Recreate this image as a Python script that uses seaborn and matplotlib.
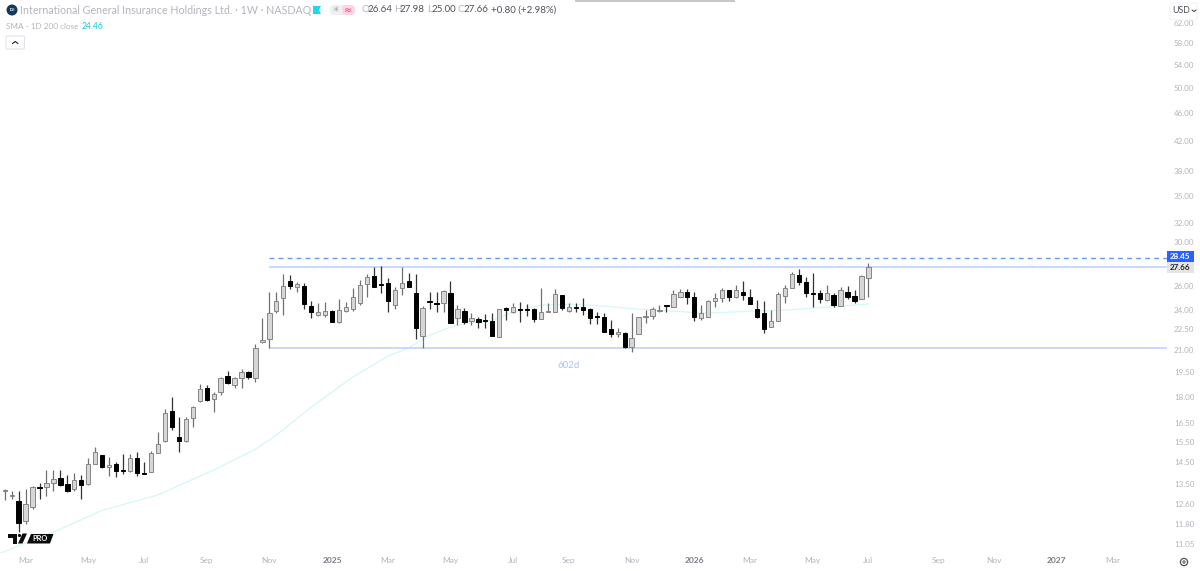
import numpy as np
import pandas as pd
import seaborn as sns
import matplotlib
matplotlib.use("Agg")
import matplotlib.pyplot as plt
from matplotlib.patches import Polygon, Rectangle, FancyBboxPatch, Circle
from matplotlib.ticker import FixedLocator, FixedFormatter, NullLocator

opens = [13.18,12.96,12.75,11.92,12.50,13.35,13.35,13.53,13.75,13.48,13.26,13.66,13.48,14.41,14.84,14.26,14.41,14.12,14.08,14.69,13.98,14.03,14.94,15.54,17.16,
         15.75,15.54,16.77,17.74,18.52,17.86,18.28,19.27,18.71,19.15,19.52,19.15,21.57,21.78,23.89,24.93,26.37,25.86,25.94,24.29,23.58,23.58,23.89,23.04,23.89,
         24.05,24.53,26.11,26.81,26.11,26.20,24.37,25.77,26.37,25.35,22.00,24.69,24.53,24.53,25.35,23.34,23.89,23.11,23.27,23.19,23.11,21.92,24.13,23.81,24.05,
         24.05,24.05,23.27,23.81,23.81,25.18,23.89,24.21,24.21,24.05,23.50,23.42,22.51,22.14,22.22,21.22,22.14,23.42,23.50,23.89,24.37,24.21,25.02,25.43,25.02,
         23.34,23.42,24.69,24.93,25.60,25.02,25.43,25.02,24.05,23.73,22.66,23.11,25.10,25.77,26.90,26.29,25.35,25.35,24.77,25.18,24.29,25.43,25.10,24.85,26.64]
highs = [13.26,13.18,13.18,13.26,13.40,13.53,14.12,14.12,14.12,13.89,13.98,13.89,14.69,15.24,14.86,14.74,14.50,14.89,14.89,14.99,14.50,15.04,16.01,17.27,17.98,
         16.82,16.82,17.45,18.77,18.71,18.28,19.21,19.59,19.21,19.72,19.59,21.43,23.34,25.43,25.43,26.99,26.90,26.29,26.20,24.69,24.53,24.61,23.97,24.85,24.61,
         25.77,26.46,26.99,27.62,27.71,26.64,25.86,27.62,27.08,26.99,24.29,25.43,25.43,25.60,26.37,24.37,24.13,23.73,23.42,23.65,23.73,24.07,24.21,24.53,24.61,
         24.45,24.13,25.77,24.53,25.69,25.20,24.53,24.53,24.93,24.13,23.81,23.73,23.19,22.59,22.29,23.73,23.42,23.97,24.21,24.37,24.39,25.60,25.69,25.69,25.43,
         24.37,24.77,25.35,25.77,25.62,26.03,26.37,25.69,24.77,24.69,23.97,25.43,26.03,27.17,27.44,26.72,27.08,25.60,26.03,25.35,25.86,25.94,25.60,26.90,27.98]
lows = [12.79,12.83,11.49,11.80,12.42,12.83,12.96,13.18,13.40,13.13,13.18,12.83,13.46,14.39,14.22,13.85,13.80,13.94,14.03,13.85,13.92,14.01,14.92,15.49,16.12,
        14.99,15.49,16.28,17.68,17.74,17.10,18.10,18.77,18.52,18.52,19.08,18.89,21.50,21.15,23.73,23.58,25.69,25.43,24.05,23.34,23.50,23.42,23.02,22.96,23.81,
        23.89,24.37,25.02,25.84,25.35,23.81,24.05,25.18,25.84,21.78,21.15,24.05,23.81,23.81,22.94,22.81,22.89,22.81,22.59,22.59,21.98,21.90,23.19,23.73,23.04,
        23.50,23.04,23.25,23.79,23.79,23.97,23.81,23.81,23.58,22.89,22.89,22.27,21.92,21.92,21.15,20.87,22.12,22.96,23.27,23.81,23.81,24.19,25.00,24.45,23.11,
        23.19,23.40,24.21,24.61,24.69,24.93,24.77,24.43,23.34,22.22,22.64,23.09,24.53,25.75,26.03,25.02,24.21,24.53,24.69,24.21,24.27,24.85,24.53,24.83,25.00]
closes = [13.22,13.00,11.84,12.62,13.35,13.31,13.53,13.71,13.44,13.18,13.66,13.44,14.41,14.99,14.26,14.36,14.08,14.08,14.69,13.98,13.94,14.94,15.39,17.04,16.28,
          15.54,16.72,17.39,18.46,17.80,18.16,19.15,18.83,19.15,19.52,19.21,21.15,21.71,23.73,24.69,25.94,25.94,26.11,24.45,23.81,23.81,23.89,23.04,23.97,24.21,
          25.02,26.03,26.72,25.86,26.03,24.69,25.60,26.20,25.86,22.59,24.13,24.61,24.45,25.52,22.96,24.05,23.04,23.34,23.04,23.11,22.00,24.05,23.97,24.21,23.97,
          23.97,23.27,23.81,23.89,25.27,24.13,24.21,24.13,23.97,23.34,23.42,22.29,22.14,22.29,21.22,21.85,23.40,23.50,24.05,23.97,24.29,25.27,25.43,25.02,23.42,
          23.73,24.69,24.93,25.60,25.02,25.60,25.18,24.45,23.42,22.51,23.11,25.27,25.77,26.99,26.29,25.35,25.27,24.85,25.35,24.37,25.60,25.02,24.69,26.81,27.66]

first_week = "2024-02-12"
sma_weeks = [-1,7,14,22,30,36,39,44,50,55,58,61,64,66,70,73,77,81,86,91,98,101,107,112,118,124]
sma_values = [10.69,11.49,12.36,13.00,14.12,15.13,15.85,17.39,19.21,20.59,21.15,22.07,22.66,22.89,23.19,23.81,24.37,24.45,24.29,24.05,23.81,23.73,23.89,23.97,24.21,24.46]

price_ticks = [62,58,54,50,46,42,38,35,32,30,26,24,22.5,21,19.5,18,16.5,15.5,14.5,13.5,12.6,11.8,11.05]
month_ticks = ["2024-03-04","2024-05-06","2024-07-01","2024-09-02","2024-11-04","2025-01-06","2025-03-03","2025-05-05",
               "2025-07-07","2025-09-01","2025-11-03","2026-01-05","2026-03-02","2026-05-04","2026-06-29","2026-09-07",
               "2026-11-02","2027-01-04","2027-03-01"]
month_labels = ["Mar","May","Jul","Sep","Nov","2025","Mar","May","Jul","Sep","Nov","2026","Mar","May","Jul","Sep","Nov","2027","Mar"]
top_line = 27.65
base_line = 21.15
dashed_line = 28.45
level_start = "2024-11-04"
level_end = "2027-05-01"
range_label = "602d"

sns.set_theme(style="white")
plt.rcParams["font.family"] = ["Lato", "DejaVu Sans"]
GREY = "#b2b5be"

W, H = 1200, 571
fig = plt.figure(figsize=(W/100, H/100), dpi=100, facecolor="white")
ax = fig.add_axes([0, (H-553)/H, 1167/W, 553/H])
ov = fig.add_axes([0, 0, 1, 1], zorder=10)
ov.set_xlim(0, W); ov.set_ylim(H, 0); ov.axis("off"); ov.patch.set_alpha(0)

start = pd.Timestamp(first_week)
dates = pd.date_range(first_week, periods=len(opens), freq="7D")
df = pd.DataFrame({"date": dates, "open": opens, "high": highs, "low": lows, "close": closes})
df["up"] = df.close >= df.open
df["top"] = df[["open", "close"]].max(axis=1)
df["bot"] = df[["open", "close"]].min(axis=1)

for up, fc, ec, wc in [(True, "#d6d6d6", "#858585", "#707070"), (False, "#000000", "#000000", "#333333")]:
    d = df[df.up == up]
    ax.vlines(d.date, d.low, d.high, color=wc, lw=0.9, zorder=3)
    ax.bar(d.date, d.top - d.bot, bottom=d.bot, width=4.3, color=fc, edgecolor=ec, lw=0.7, zorder=4)

sma = pd.DataFrame({"date": start + pd.to_timedelta(np.array(sma_weeks)*7, unit="D"), "sma": sma_values})
sns.lineplot(data=sma, x="date", y="sma", ax=ax, color="#d6f7f7", lw=0.9, zorder=2, legend=False)

x0, x1 = pd.Timestamp(level_start), pd.Timestamp(level_end)
ax.hlines([top_line, base_line], x0, x1, color="#bcd0fb", lw=1.1, zorder=2)
ax.hlines(dashed_line, x0, x1, color="#6a97f6", lw=1.0, linestyles=(0, (3.5, 3)), zorder=2)
ax.text(pd.Timestamp("2025-09-01"), 19.98, range_label, color="#a9c1f7", fontsize=7, ha="center", va="center")

ax.set_yscale("log")
ax.set_ylim(10.73, 66.9)
ax.set_xlim(start - pd.Timedelta(days=4.7), start + pd.Timedelta(days=1168))
ax.yaxis.tick_right()
ax.yaxis.set_major_locator(FixedLocator(price_ticks))
ax.yaxis.set_major_formatter(FixedFormatter([f"{v:.2f}" for v in price_ticks]))
ax.yaxis.set_minor_locator(NullLocator())
ax.tick_params(axis="y", length=0, pad=5, labelsize=5.8, labelcolor=GREY)
ax.set_xticks(pd.to_datetime(month_ticks))
ax.set_xticklabels(month_labels)
ax.tick_params(axis="x", length=0, pad=3, labelsize=6, labelcolor=GREY)
for lab in ax.get_xticklabels():
    if lab.get_text().isdigit():
        lab.set_color("#787b86"); lab.set_fontweight("bold")
ax.set_xlabel(""); ax.set_ylabel("")
for s in ax.spines.values():
    s.set_visible(False)
ax.patch.set_alpha(0)

# header
ov.add_patch(Rectangle((575, 0), 160, 1.5, color="#c8c8c8", lw=0))
ov.add_patch(Circle((12, 10), 5.5, color="#123a5c", lw=0))
ov.text(12, 10, "IGI", color="white", fontsize=3, ha="center", va="center", fontweight="bold")
ov.text(20.5, 10, "International General Insurance Holdings Ltd. \u00b7 1W \u00b7 NASDAQ", color=GREY, fontsize=7.65, va="center")
ov.add_patch(Polygon([(313,6),(321,6),(319,10),(321,14),(313,14)], color="#19d8f0", lw=0))
ov.add_patch(FancyBboxPatch((330,5),20,10, boxstyle="round,pad=0,rounding_size=4", color="#f0f0f0", lw=0))
ov.add_patch(FancyBboxPatch((342,5),13,10, boxstyle="round,pad=0,rounding_size=4", color="#fcd5e2", lw=0))
ov.text(336, 10, "\u2733", color="#9a9a9a", fontsize=5.5, ha="center", va="center", family="DejaVu Sans")
ov.text(348, 10, "\u2248", color="#f23d7a", fontsize=7, ha="center", va="center", family="DejaVu Sans")
parts = [("O",361,GREY),("26.64",367,"#50535e"),("H",394,GREY),("27.98",400,"#50535e"),("L",427,GREY),
         ("25.00",431,"#50535e"),("C",458,GREY),("27.66",464,"#50535e"),("+0.80 (+2.98%)",491,"#50535e")]
for t, x, c in parts:
    ov.text(x, 10, t, color=c, fontsize=7, va="center")
ov.text(6, 26.5, "SMA - 1D 200 close", color=GREY, fontsize=5.9, va="center")
ov.text(82, 26.5, "24.46", color="#19c8e6", fontsize=6.2, va="center")
ov.add_patch(FancyBboxPatch((6,36),18.5,13, boxstyle="round,pad=0,rounding_size=1.5", fc="white", ec="#e0e3eb", lw=0.8))
ov.plot([12.5,15.2,18],[43.5,41.5,43.5], color="#333333", lw=0.9)

# right side tags
ov.add_patch(FancyBboxPatch((1170,3),27,17, boxstyle="round,pad=0,rounding_size=2", fc="white", ec="#f0f0f3", lw=0.6))
ov.text(1172.5, 10.5, "USD", color="#4a4e5a", fontsize=6.3, va="center")
ov.plot([1192,1194,1196],[10,11.5,10], color="#333333", lw=0.7)
ov.add_patch(Rectangle((1167,251),27,11, color="#2962ff", lw=0))
ov.text(1180.5, 256.7, "28.45", color="white", fontsize=5.8, ha="center", va="center", fontweight="bold")
ov.add_patch(Rectangle((1167,262),27,11, color="#e4e4e4", lw=0))
ov.text(1180.5, 267.7, "27.66", color="#222222", fontsize=5.8, ha="center", va="center", fontweight="bold")

# gear
ov.add_patch(Circle((1184,562), 3.6, fc="white", ec="#50535e", lw=0.9))
ov.add_patch(Circle((1184,562), 1.1, fc="white", ec="#50535e", lw=0.7))

# logo
ov.add_patch(Polygon([(7.5,533.5),(17,533.5),(17,543.5),(12.5,543.5),(12.5,537.5),(7.5,537.5)], color="#0c0c0c", lw=0))
ov.add_patch(Circle((19.5,535.5), 1.6, color="#0c0c0c", lw=0))
ov.add_patch(Polygon([(18,543.5),(22.5,533.5),(27,533.5),(22.5,543.5)], color="#0c0c0c", lw=0))
ov.add_patch(Polygon([(31,534),(53.5,534),(50,543.5),(27,543.5)], color="#0c0c0c", lw=0))
ov.text(40, 538.8, "PRO", color="white", fontsize=5.3, ha="center", va="center", fontweight="bold")

fig.savefig("out.png", dpi=100)
